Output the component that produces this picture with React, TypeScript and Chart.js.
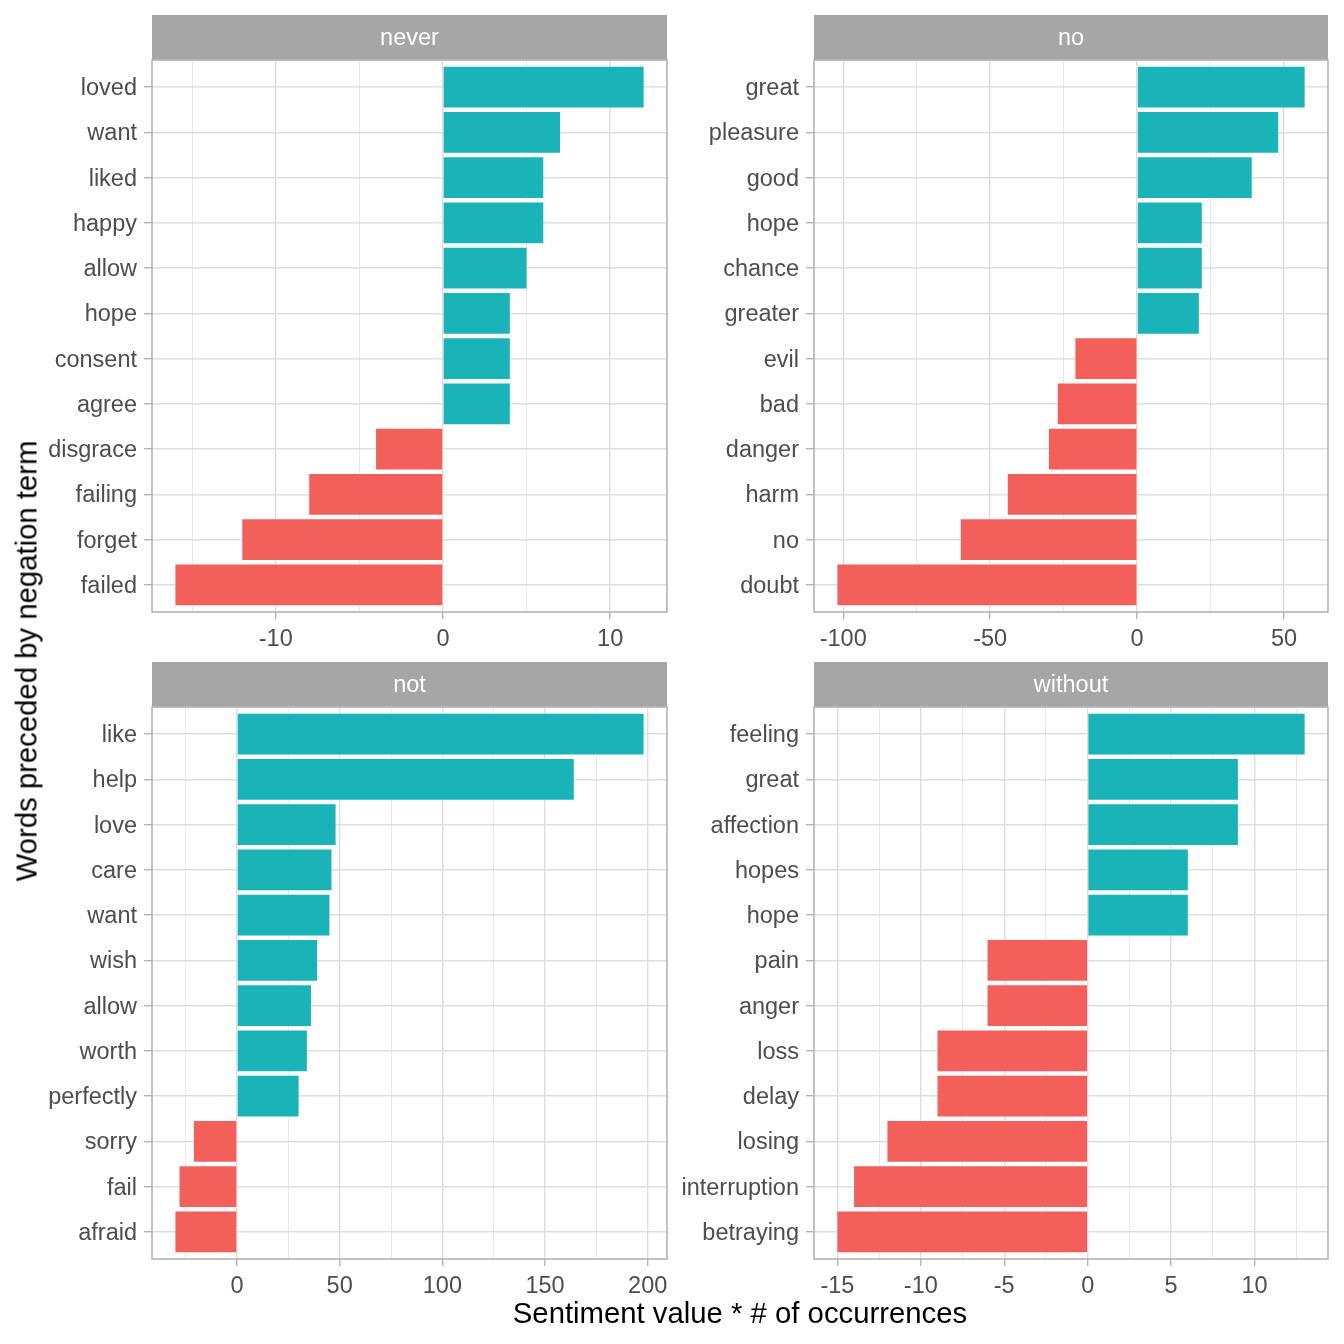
import React, { useEffect, useRef } from "react";
import { Chart, registerables } from "chart.js";

Chart.register(...registerables);

// ---------- data ----------
const neverWords = ["loved", "want", "liked", "happy", "allow", "hope", "consent", "agree", "disgrace", "failing", "forget", "failed"];
const neverValues = [12, 7, 6, 6, 5, 4, 4, 4, -4, -8, -12, -16];
const neverMajorTicks = [-10, 0, 10];
const neverMinorTicks = [-15, -5, 5];

const noWords = ["great", "pleasure", "good", "hope", "chance", "greater", "evil", "bad", "danger", "harm", "no", "doubt"];
const noValues = [57, 48, 39, 22, 22, 21, -21, -27, -30, -44, -60, -102];
const noMajorTicks = [-100, -50, 0, 50];
const noMinorTicks = [-75, -25, 25];

const notWords = ["like", "help", "love", "care", "want", "wish", "allow", "worth", "perfectly", "sorry", "fail", "afraid"];
const notValues = [198, 164, 48, 46, 45, 39, 36, 34, 30, -21, -28, -30];
const notMajorTicks = [0, 50, 100, 150, 200];
const notMinorTicks = [-25, 25, 75, 125, 175];

const withoutWords = ["feeling", "great", "affection", "hopes", "hope", "pain", "anger", "loss", "delay", "losing", "interruption", "betraying"];
const withoutValues = [13, 9, 9, 6, 6, -6, -6, -9, -9, -12, -14, -15];
const withoutMajorTicks = [-15, -10, -5, 0, 5, 10];
const withoutMinorTicks = [-12.5, -7.5, -2.5, 2.5, 7.5, 12.5];

const xTitle = "Sentiment value * # of occurrences";
const yTitle = "Words preceded by negation term";

// ---------- style ----------
const FONT = "'Liberation Sans', Arial, Helvetica, sans-serif";
const POS = "#19B3B8";
const NEG = "#F35F5B";
const GRID = "#DEDEDE";
const FRAME = "#B3B3B3";
const STRIP = "#A6A6A6";
const TEXT = "#4D4D4D";

type Panel = {
  title: string;
  words: string[];
  values: number[];
  major: number[];
  minor: number[];
  col: number;
  row: number;
};

const panels: Panel[] = [
  { title: "never", words: neverWords, values: neverValues, major: neverMajorTicks, minor: neverMinorTicks, col: 0, row: 0 },
  { title: "no", words: noWords, values: noValues, major: noMajorTicks, minor: noMinorTicks, col: 1, row: 0 },
  { title: "not", words: notWords, values: notValues, major: notMajorTicks, minor: notMinorTicks, col: 0, row: 1 },
  { title: "without", words: withoutWords, values: withoutValues, major: withoutMajorTicks, minor: withoutMinorTicks, col: 1, row: 1 },
];

// layout: canvas geometry per column / row
const COL_LEFT = [0, 672];
const COL_WIDTH = [720, 672];
const COL_YAXIS = [152, 142];
const COL_RIGHTPAD = [53, 16];
const ROW_TOP = [0, 647];
const CANVAS_H = 663;
const AREA_BOTTOM = 612;

const stripPlugin = {
  id: "strip",
  afterDraw(chart: any, _args: any, opts: any) {
    const { ctx, chartArea: a } = chart;
    ctx.save();
    ctx.fillStyle = STRIP;
    ctx.fillRect(a.left, a.top - 45, a.right - a.left, 45);
    ctx.fillStyle = "#FFFFFF";
    ctx.font = `23.5px ${FONT}`;
    ctx.textAlign = "center";
    ctx.textBaseline = "middle";
    ctx.fillText(opts.title, (a.left + a.right) / 2, a.top - 21);
    ctx.strokeStyle = FRAME;
    ctx.lineWidth = 1.6;
    ctx.strokeRect(a.left, a.top, a.right - a.left, a.bottom - a.top);
    ctx.restore();
  },
};

function PanelChart({ panel }: { panel: Panel }) {
  const ref = useRef<HTMLCanvasElement>(null);
  const width = COL_WIDTH[panel.col];
  useEffect(() => {
    const n = panel.words.length;
    const lo = Math.min(0, ...panel.values);
    const hi = Math.max(0, ...panel.values);
    const expand = (hi - lo) * 0.05;
    const xTicks = [...panel.major, ...panel.minor].sort((a, b) => a - b);
    const isMajor = (v: number) => panel.major.includes(v);
    const yAxisWidth = COL_YAXIS[panel.col];
    const rightPad = COL_RIGHTPAD[panel.col];

    const chart = new Chart(ref.current as HTMLCanvasElement, {
      type: "bar",
      data: {
        datasets: [
          {
            data: panel.values.map((v, i) => ({ x: v, y: n - i })) as any,
            backgroundColor: panel.values.map((v) => (v > 0 ? POS : NEG)),
            borderWidth: 0,
            barPercentage: 0.9,
            categoryPercentage: 1,
          },
        ],
      },
      options: {
        indexAxis: "y",
        animation: false,
        responsive: false,
        maintainAspectRatio: false,
        events: [],
        layout: { padding: { left: 0, right: rightPad, top: 60, bottom: 0 } },
        plugins: {
          legend: { display: false },
          tooltip: { enabled: false },
          strip: { title: panel.title },
        } as any,
        scales: {
          x: {
            type: "linear",
            min: lo - expand,
            max: hi + expand,
            offset: false,
            afterBuildTicks: (s: any) => {
              s.ticks = xTicks.map((v) => ({ value: v }));
            },
            afterFit: (s: any) => {
              s.height = CANVAS_H - AREA_BOTTOM;
            },
            ticks: {
              autoSkip: false,
              maxRotation: 0,
              padding: 6,
              color: TEXT,
              font: { family: FONT, size: 23.5 },
              callback: (v: any) => (isMajor(Number(v)) ? String(v) : ""),
            },
            grid: {
              offset: false,
              color: GRID,
              lineWidth: (c: any) => (isMajor(c.tick?.value) ? 1.4 : 0.7),
              tickColor: (c: any) => (isMajor(c.tick?.value) ? FRAME : "rgba(0,0,0,0)"),
              tickWidth: 1.4,
              tickLength: 7,
              drawTicks: true,
            },
            border: { display: false },
          },
          y: {
            type: "linear",
            min: 0.4,
            max: n + 0.6,
            offset: false,
            afterBuildTicks: (s: any) => {
              s.ticks = panel.words.map((_, i) => ({ value: n - i }));
            },
            afterFit: (s: any) => {
              s.width = yAxisWidth;
            },
            ticks: {
              autoSkip: false,
              padding: 7,
              labelOffset: 1.5,
              color: TEXT,
              font: { family: FONT, size: 23.5 },
              callback: (v: any) => panel.words[n - Number(v)] ?? "",
            },
            grid: {
              offset: false,
              color: GRID,
              lineWidth: 1.4,
              tickColor: FRAME,
              tickWidth: 1.4,
              tickLength: 8,
              drawTicks: true,
            },
            border: { display: false },
          },
        } as any,
      },
      plugins: [stripPlugin as any],
    });
    return () => chart.destroy();
  }, [panel]);

  return (
    <canvas
      ref={ref}
      width={width}
      height={CANVAS_H}
      style={{
        position: "absolute",
        left: COL_LEFT[panel.col],
        top: ROW_TOP[panel.row],
        width: width,
        height: CANVAS_H,
      }}
    />
  );
}

export default function App() {
  return (
    <div
      style={{
        position: "absolute",
        left: 0,
        top: 0,
        width: 1344,
        height: 1344,
        background: "#FFFFFF",
        overflow: "hidden",
      }}
    >
      {panels.map((p) => (
        <PanelChart key={p.title} panel={p} />
      ))}
      <div
        style={{
          position: "absolute",
          left: 740,
          top: 1298,
          transform: "translateX(-50%)",
          whiteSpace: "nowrap",
          fontFamily: FONT,
          fontSize: 29.3,
          lineHeight: "29px",
          color: "#000000",
        }}
      >
        {xTitle}
      </div>
      <div
        style={{
          position: "absolute",
          left: 26,
          top: 661,
          transform: "translate(-50%, -50%) rotate(-90deg)",
          whiteSpace: "nowrap",
          fontFamily: FONT,
          fontSize: 29.3,
          lineHeight: "29px",
          color: "#000000",
        }}
      >
        {yTitle}
      </div>
    </div>
  );
}
